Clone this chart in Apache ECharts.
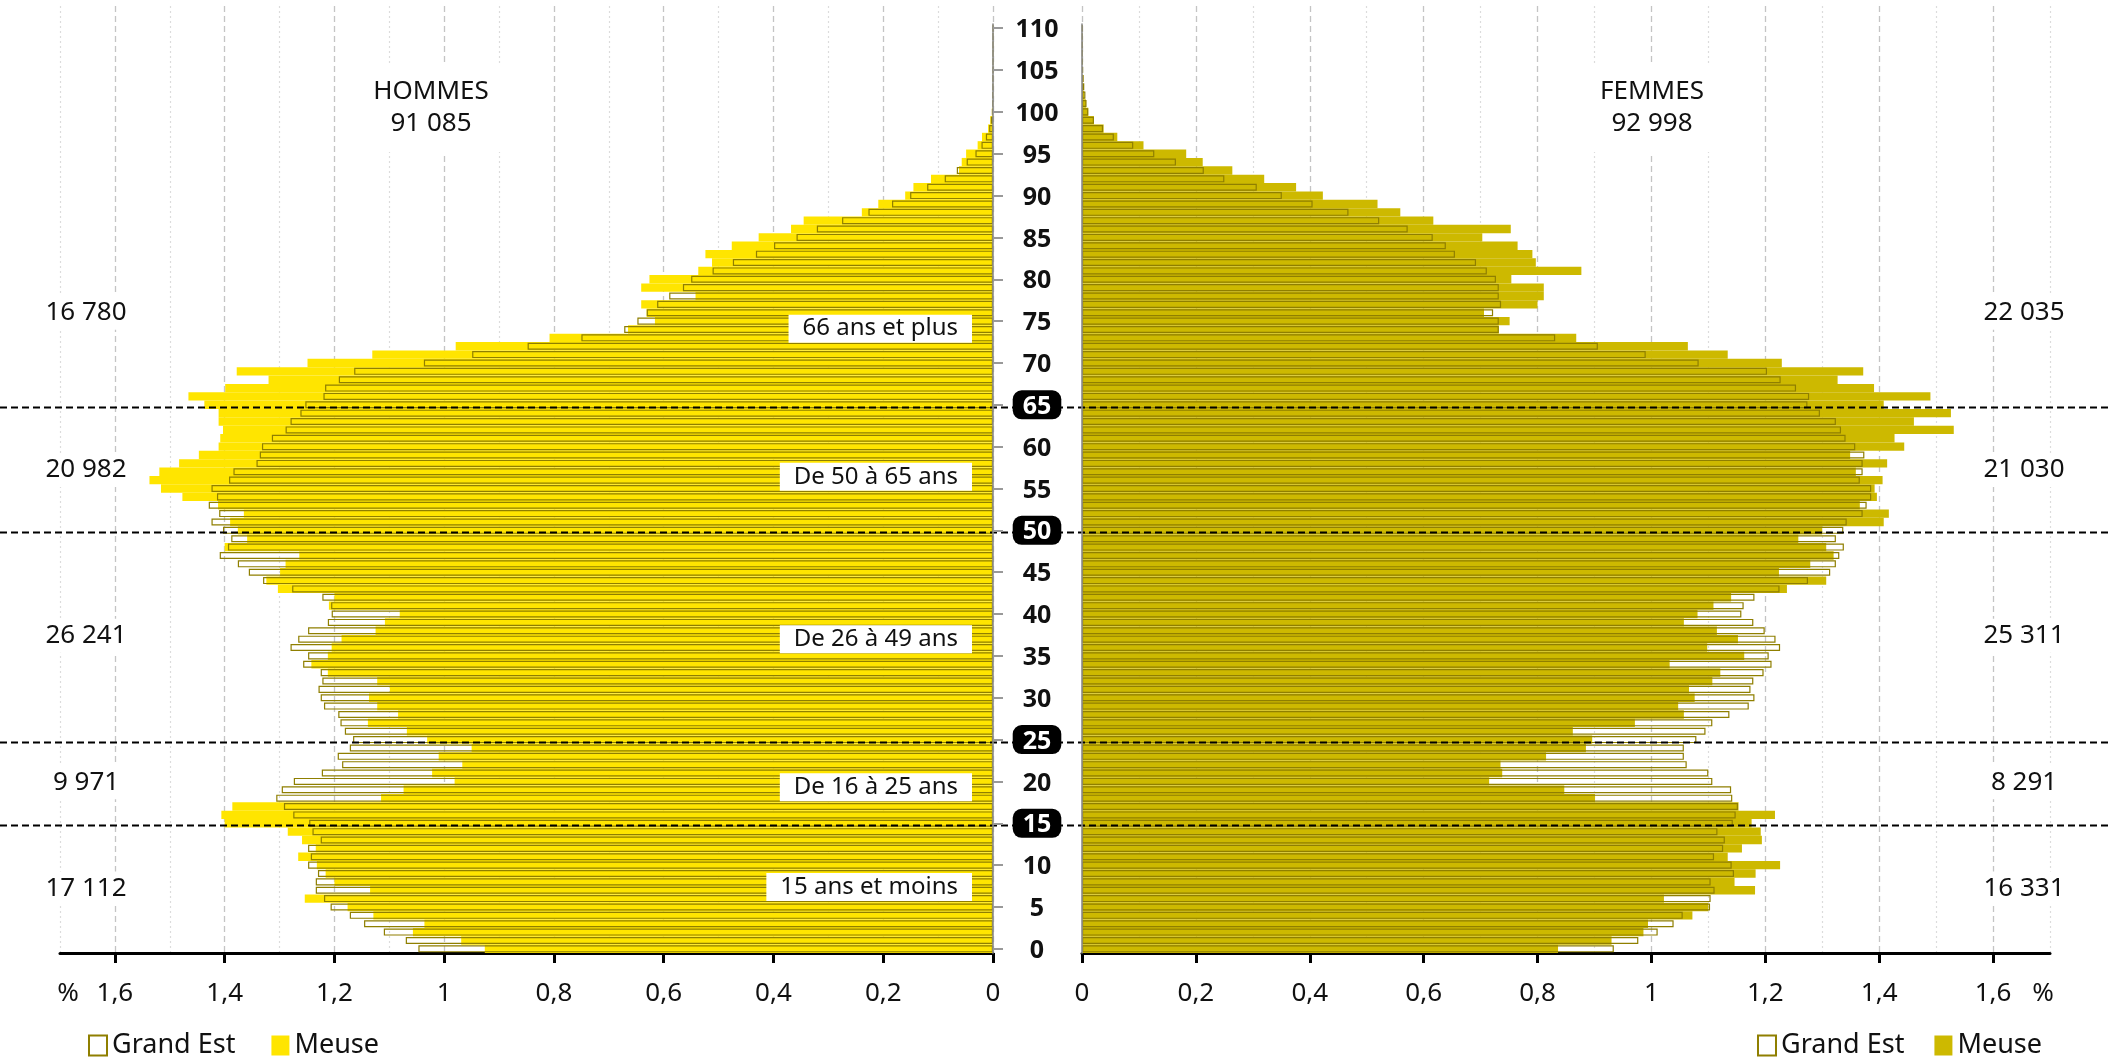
<!DOCTYPE html>
<html>
<head>
<meta charset="utf-8">
<script src="https://cdn.jsdelivr.net/npm/echarts@6/dist/echarts.min.js"></script>
<style>
  html, body { margin: 0; padding: 0; background: #fff; }
  #chart { width: 2111px; height: 1057px; }
</style>
</head>
<body>
<div id="chart"></div>
<script>
// ages 0..110 (categories)
const ages = Array.from({length: 111}, (_, i) => String(i));

// % of population by age
const hommesGrandEst = [
  1.047, 1.070, 1.110, 1.146, 1.172, 1.207, 1.219, 1.234, 1.234, 1.230,
  1.248, 1.243, 1.248, 1.225, 1.240, 1.246, 1.275, 1.292, 1.306, 1.296,
  1.274, 1.223, 1.186, 1.194, 1.172, 1.166, 1.181, 1.189, 1.193, 1.219,
  1.225, 1.229, 1.222, 1.225, 1.257, 1.248, 1.280, 1.266, 1.248, 1.212,
  1.205, 1.206, 1.222, 1.277, 1.330, 1.356, 1.376, 1.409, 1.394, 1.388,
  1.403, 1.424, 1.410, 1.429, 1.414, 1.424, 1.392, 1.384, 1.342, 1.336,
  1.332, 1.314, 1.289, 1.280, 1.262, 1.253, 1.220, 1.217, 1.192, 1.164,
  1.037, 0.949, 0.848, 0.750, 0.672, 0.648, 0.631, 0.612, 0.590, 0.565,
  0.550, 0.511, 0.474, 0.432, 0.399, 0.358, 0.321, 0.275, 0.227, 0.184,
  0.151, 0.120, 0.088, 0.066, 0.048, 0.032, 0.021, 0.013, 0.007, 0.004,
  0.002, 0.001, 0.001, 0.0005, 0.0005, 0, 0, 0, 0, 0, 0
];
const hommesMeuse = [
  0.926, 0.969, 1.057, 1.036, 1.129, 1.176, 1.254, 1.135, 1.200, 1.216,
  1.232, 1.266, 1.234, 1.259, 1.285, 1.400, 1.406, 1.386, 1.115, 1.074,
  0.981, 1.022, 0.967, 1.010, 0.950, 1.031, 1.068, 1.139, 1.084, 1.122,
  1.137, 1.099, 1.122, 1.212, 1.242, 1.212, 1.205, 1.187, 1.125, 1.108,
  1.081, 1.210, 1.200, 1.303, 1.324, 1.299, 1.289, 1.264, 1.400, 1.359,
  1.376, 1.390, 1.365, 1.412, 1.477, 1.516, 1.537, 1.519, 1.483, 1.447,
  1.411, 1.408, 1.403, 1.411, 1.411, 1.437, 1.466, 1.399, 1.320, 1.378,
  1.249, 1.131, 0.979, 0.808, 0.665, 0.616, 0.631, 0.641, 0.542, 0.641,
  0.626, 0.537, 0.512, 0.524, 0.476, 0.427, 0.368, 0.345, 0.239, 0.209,
  0.160, 0.145, 0.113, 0.062, 0.057, 0.049, 0.028, 0.020, 0.009, 0.005,
  0.002, 0, 0, 0, 0, 0, 0, 0, 0, 0, 0
];
const femmesGrandEst = [
  0.934, 0.977, 1.011, 1.039, 1.055, 1.103, 1.104, 1.111, 1.104, 1.145,
  1.141, 1.110, 1.126, 1.129, 1.116, 1.143, 1.148, 1.152, 1.142, 1.140,
  1.107, 1.100, 1.062, 1.057, 1.057, 1.079, 1.095, 1.107, 1.137, 1.171,
  1.181, 1.174, 1.179, 1.197, 1.211, 1.206, 1.226, 1.218, 1.199, 1.179,
  1.158, 1.162, 1.181, 1.225, 1.275, 1.314, 1.324, 1.330, 1.338, 1.324,
  1.337, 1.343, 1.371, 1.378, 1.386, 1.386, 1.366, 1.371, 1.371, 1.374,
  1.358, 1.341, 1.333, 1.324, 1.296, 1.274, 1.277, 1.254, 1.227, 1.203,
  1.083, 0.990, 0.906, 0.831, 0.732, 0.732, 0.722, 0.736, 0.732, 0.732,
  0.727, 0.711, 0.692, 0.655, 0.639, 0.616, 0.572, 0.522, 0.468, 0.405,
  0.351, 0.307, 0.250, 0.214, 0.165, 0.127, 0.090, 0.056, 0.037, 0.021,
  0.011, 0.008, 0.006, 0.004, 0.003, 0.002, 0.0015, 0.001, 0.001, 0.001, 0.001
];
const femmesMeuse = [
  0.836, 0.930, 0.986, 0.994, 1.072, 1.100, 1.022, 1.182, 1.146, 1.183,
  1.226, 1.134, 1.159, 1.194, 1.192, 1.176, 1.217, 1.153, 0.901, 0.847,
  0.715, 0.738, 0.735, 0.815, 0.885, 0.896, 0.862, 0.971, 1.057, 1.047,
  1.076, 1.066, 1.107, 1.121, 1.032, 1.163, 1.098, 1.152, 1.115, 1.057,
  1.081, 1.109, 1.140, 1.238, 1.307, 1.224, 1.279, 1.320, 1.307, 1.258,
  1.300, 1.408, 1.417, 1.366, 1.396, 1.392, 1.406, 1.359, 1.414, 1.349,
  1.444, 1.427, 1.531, 1.461, 1.526, 1.408, 1.490, 1.391, 1.327, 1.372,
  1.229, 1.134, 1.064, 0.868, 0.732, 0.751, 0.706, 0.800, 0.811, 0.811,
  0.754, 0.877, 0.797, 0.791, 0.765, 0.703, 0.753, 0.617, 0.559, 0.519,
  0.423, 0.376, 0.320, 0.264, 0.212, 0.183, 0.108, 0.062, 0.038, 0.021,
  0.011, 0.007, 0.004, 0.002, 0.001, 0, 0, 0, 0, 0, 0
];

const xTicks = [0, 0.2, 0.4, 0.6, 0.8, 1, 1.2, 1.4, 1.6];
const xMax = 1.7;
const ageMarks = [15, 25, 50, 65];

const groupNames = ['66 ans et plus', 'De 50 à 65 ans', 'De 26 à 49 ans', 'De 16 à 25 ans', '15 ans et moins'];
const groupNameAges = [74.1, 56.4, 37, 19.3, 7.4];
const hommesCounts = ['16 780', '20 982', '26 241', '9 971', '17 112'];
const femmesCounts = ['22 035', '21 030', '25 311', '8 291', '16 331'];
const countAges = [76, 57.2, 37.4, 19.9, 7.2];

const FONT = 'Noto Sans';
const GE_BORDER = '#8f7f00';
const MEUSE_H = '#ffe500';
const MEUSE_F = '#cdb900';

const chart = echarts.init(document.getElementById('chart'));

function pctLabel(side) {
  return function (v) {
    if (Math.abs(v - xMax) < 1e-6) return side === 'h' ? '{pctH|%}' : '{pctF|%}';
    return String(+(+v).toFixed(1)).replace('.', ',');
  };
}

function mainX(gridIndex, inverse, side) {
  return {
    type: 'value', gridIndex: gridIndex, inverse: inverse, min: 0, max: xMax, interval: 0.1,
    axisLine: {show: true, lineStyle: {color: '#000', width: 3}},
    axisTick: {show: true, customValues: xTicks, length: 10, lineStyle: {color: '#000', width: 3}},
    axisLabel: {
      customValues: xTicks.concat([xMax]), formatter: pctLabel(side), margin: 28,
      fontSize: 26, color: '#111', fontFamily: FONT,
      rich: {
        pctH: {padding: [0, 0, 6, 16], fontSize: 26, fontFamily: FONT, color: '#111'},
        pctF: {padding: [0, 14, 6, 0], fontSize: 26, fontFamily: FONT, color: '#111'}
      }
    },
    splitLine: {show: false}
  };
}
// background grid lines: dashed at every 0.2, dotted in between
function majorX(gridIndex, inverse) {
  return {
    type: 'value', gridIndex: gridIndex, inverse: inverse, min: 0, max: xMax, interval: 0.1,
    axisLine: {show: false}, axisLabel: {show: false},
    axisTick: {show: false, customValues: xTicks},
    splitLine: {show: true, lineStyle: {color: '#c4c4c4', width: 1.3, type: [6, 4]}}
  };
}
function minorX(gridIndex, inverse) {
  return {
    type: 'value', gridIndex: gridIndex, inverse: inverse, min: 0, max: xMax, interval: 0.1,
    axisLine: {show: false}, axisLabel: {show: false}, axisTick: {show: false},
    splitLine: {show: true, lineStyle: {color: ['rgba(0,0,0,0)', '#dcdcdc'], width: 1.2, type: [2, 3]}}
  };
}

const option = {
  animation: false,
  backgroundColor: '#fff',
  grid: [
    {left: 60, top: 24, width: 933, height: 929},
    {left: 1082, top: 24, width: 968, height: 929},
    {left: 60, top: 6, width: 933, height: 947},
    {left: 1082, top: 6, width: 968, height: 947}
  ],
  xAxis: [
    mainX(0, true, 'h'),
    mainX(1, false, 'f'),
    majorX(2, true), minorX(2, true),
    majorX(3, false), minorX(3, false)
  ],
  yAxis: [
    {
      type: 'category', gridIndex: 0, data: ages, position: 'right', z: 10,
      axisLine: {show: true, lineStyle: {color: '#8c8c8c', width: 1.6}},
      axisTick: {show: true, interval: 4, alignWithLabel: true, length: 10, lineStyle: {color: '#999', width: 2}},
      axisLabel: {
        interval: 4, margin: 44, align: 'center',
        formatter: v => ageMarks.includes(+v) ? '{box|' + v + '}' : '{age|' + v + '}',
        rich: {
          age: {fontSize: 25, fontWeight: 'bold', color: '#111', fontFamily: FONT, padding: [4, 0, 0, 0]},
          box: {fontSize: 25, fontWeight: 'bold', color: '#fff', fontFamily: FONT,
                backgroundColor: '#000', borderRadius: 9, padding: [4, 10, 0, 10]}
        }
      },
      splitLine: {show: false}
    },
    {type: 'category', gridIndex: 0, data: ages, show: false},
    {
      type: 'category', gridIndex: 1, data: ages, position: 'left', z: 10,
      axisLine: {show: true, lineStyle: {color: '#8c8c8c', width: 1.6}},
      axisTick: {show: false}, axisLabel: {show: false}, splitLine: {show: false}
    },
    {type: 'category', gridIndex: 1, data: ages, show: false},
    {type: 'value', gridIndex: 2, show: false},
    {type: 'value', gridIndex: 3, show: false}
  ],
  legend: [
    {
      data: [{name: 'Grand Est|H', itemStyle: {color: '#fff', borderColor: GE_BORDER, borderWidth: 2}}, 'Meuse|H'],
      left: 83, top: 1027, itemWidth: 18, itemHeight: 20, itemGap: 36, icon: 'rect',
      formatter: n => n.split('|')[0], selectedMode: false,
      textStyle: {fontSize: 27, color: '#111', fontFamily: FONT}
    },
    {
      data: [{name: 'Grand Est|F', itemStyle: {color: '#fff', borderColor: GE_BORDER, borderWidth: 2}}, 'Meuse|F'],
      left: 1752, top: 1027, itemWidth: 18, itemHeight: 20, itemGap: 30, icon: 'rect',
      formatter: n => n.split('|')[0], selectedMode: false,
      textStyle: {fontSize: 27, color: '#111', fontFamily: FONT}
    }
  ],
  series: [
    {name: 'Meuse|H', type: 'bar', xAxisIndex: 0, yAxisIndex: 0, data: hommesMeuse,
     barWidth: '100%', itemStyle: {color: MEUSE_H}, z: 2},
    {name: 'Grand Est|H', type: 'bar', xAxisIndex: 0, yAxisIndex: 1, data: hommesGrandEst,
     barWidth: '84%', itemStyle: {color: 'rgba(0,0,0,0)', borderColor: GE_BORDER, borderWidth: 1.2}, z: 3},
    {name: 'Meuse|F', type: 'bar', xAxisIndex: 1, yAxisIndex: 2, data: femmesMeuse,
     barWidth: '100%', itemStyle: {color: MEUSE_F}, z: 2},
    {name: 'Grand Est|F', type: 'bar', xAxisIndex: 1, yAxisIndex: 3, data: femmesGrandEst,
     barWidth: '84%', itemStyle: {color: 'rgba(0,0,0,0)', borderColor: GE_BORDER, borderWidth: 1.2}, z: 3}
  ]
};

chart.setOption(option);

// annotations placed through the axes
const zeroH = chart.convertToPixel({xAxisIndex: 0}, 0);
const zeroF = chart.convertToPixel({xAxisIndex: 1}, 0);
const y0 = chart.convertToPixel({yAxisIndex: 0}, 0);
const y110 = chart.convertToPixel({yAxisIndex: 0}, 110);
const ageY = a => y0 + (y110 - y0) * a / 110;
const W = chart.getWidth();

const graphics = [];
ageMarks.forEach(a => {
  const y = Math.round(ageY(a)) + 2.5;
  graphics.push({type: 'line', z: 5, silent: true,
    shape: {x1: 0, y1: y, x2: W, y2: y},
    style: {stroke: '#000', lineWidth: 2, lineDash: [7, 4]}});
});
groupNames.forEach((t, i) => {
  graphics.push({type: 'text', z: 6, silent: true, x: zeroH - 21, y: ageY(groupNameAges[i]),
    style: {text: t, fill: '#111', fontSize: 24, fontFamily: FONT, align: 'right', verticalAlign: 'middle',
            backgroundColor: '#fff', padding: [2, 14]}});
});
countAges.forEach((a, i) => {
  graphics.push({type: 'text', z: 6, silent: true, x: 86, y: ageY(a),
    style: {text: hommesCounts[i], fill: '#111', fontSize: 26, fontFamily: FONT, align: 'center', verticalAlign: 'middle',
            backgroundColor: '#fff', padding: [4, 6]}});
  graphics.push({type: 'text', z: 6, silent: true, x: 2024, y: ageY(a),
    style: {text: femmesCounts[i], fill: '#111', fontSize: 26, fontFamily: FONT, align: 'center', verticalAlign: 'middle',
            backgroundColor: '#fff', padding: [4, 6]}});
});
[['HOMMES\n91 085', 431], ['FEMMES\n92 998', 1652]].forEach(([t, x]) => {
  graphics.push({type: 'text', z: 6, silent: true, x: x, y: 108,
    style: {text: t, fill: '#111', fontSize: 26, lineHeight: 32, fontFamily: FONT, align: 'center', verticalAlign: 'middle',
            backgroundColor: '#fff', padding: [8, 14, 16, 14]}});
});
chart.setOption({graphic: graphics});
</script>
</body>
</html>
